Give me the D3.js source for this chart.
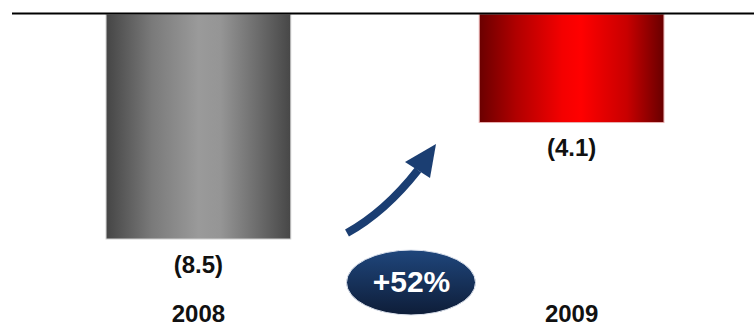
<!DOCTYPE html>
<html>
<head>
<meta charset="utf-8">
<script src="https://cdn.jsdelivr.net/npm/d3@7"></script>
<style>
body { margin: 0; background: #fff; }
svg { display: block; font-family: "Liberation Sans", Arial, sans-serif; }
</style>
</head>
<body>
<svg id="chart" width="754" height="327"></svg>
<script>
var years = ["2008", "2009"];
var values = [-8.5, -4.1];
var valueLabels = ["(8.5)", "(4.1)"];
var changeLabel = "+52%";

var svg = d3.select("#chart");
var defs = svg.append("defs");

var x = d3.scaleBand().domain(years).range([12, 758]).paddingInner(0.505).paddingOuter(0.252);
var y = d3.scaleLinear().domain([0, -8.5]).range([14, 239]);

function hGrad (id, stops) {
	var g = defs.append("linearGradient").attr("id", id).attr("x1", "0").attr("x2", "1").attr("y1", "0").attr("y2", "0");
	stops.forEach(function (s) {
		g.append("stop").attr("offset", s[0]).attr("stop-color", s[1]);
	});
}
hGrad("gGray", [[0, "#454545"], [0.25, "#7a7a7a"], [0.5, "#9a9a9a"], [0.62, "#959595"], [0.85, "#666666"], [1, "#474747"]]);
hGrad("gRed", [[0, "#6a0000"], [0.2, "#b00000"], [0.45, "#f40000"], [0.55, "#ff0000"], [0.8, "#c80000"], [1, "#680000"]]);
var eg = defs.append("linearGradient").attr("id", "gEll").attr("x1", "0").attr("x2", "0").attr("y1", "0").attr("y2", "1");
eg.append("stop").attr("offset", 0).attr("stop-color", "#1f467c");
eg.append("stop").attr("offset", 1).attr("stop-color", "#0e1d38");

var fills = ["url(#gGray)", "url(#gRed)"];
var edges = ["#d0d0d0", "#e8b0b0"];

svg.selectAll("rect.bar").data(values).enter().append("rect").attr("class", "bar")
	.attr("x", function (d, i) { return x(years[i]); })
	.attr("y", y(0))
	.attr("width", x.bandwidth())
	.attr("height", function (d) { return y(d) - y(0); })
	.attr("fill", function (d, i) { return fills[i]; })
	.attr("stroke", function (d, i) { return edges[i]; })
	.attr("stroke-width", "1");

svg.append("line").attr("x1", 12).attr("x2", 754).attr("y1", 13.5).attr("y2", 13.5).attr("stroke", "#000").attr("stroke-width", "2.2");

svg.selectAll("text.val").data(values).enter().append("text").attr("class", "val")
	.attr("x", function (d, i) { return x(years[i]) + x.bandwidth() / 2; })
	.attr("y", function (d) { return y(d) + 33.5; })
	.attr("text-anchor", "middle").attr("font-weight", "bold").attr("font-size", "24px").attr("fill", "#111")
	.text(function (d, i) { return valueLabels[i]; });

svg.selectAll("text.yr").data(years).enter().append("text").attr("class", "yr")
	.attr("x", function (d) { return x(d) + x.bandwidth() / 2; })
	.attr("y", 321.5)
	.attr("text-anchor", "middle").attr("font-weight", "bold").attr("font-size", "24px").attr("fill", "#111")
	.text(function (d) { return d; });

// growth arrow
svg.append("path").attr("d", "M347,233 Q385,212 418,170").attr("fill", "none").attr("stroke", "#1b3e72").attr("stroke-width", "8");
svg.append("polygon").attr("points", "436,144 405,162 430,178").attr("fill", "#1b3e72");

// change bubble
var cx = 411, cy = 282.5;
svg.append("ellipse").attr("cx", cx).attr("cy", cy).attr("rx", 64.5).attr("ry", 32.5).attr("fill", "url(#gEll)").attr("stroke", "#dde3ee").attr("stroke-width", "1");
svg.append("text").attr("x", cx + 0.5).attr("y", 292).attr("text-anchor", "middle").attr("font-weight", "bold").attr("font-size", "30px").attr("fill", "#fff").text(changeLabel);
</script>
</body>
</html>
